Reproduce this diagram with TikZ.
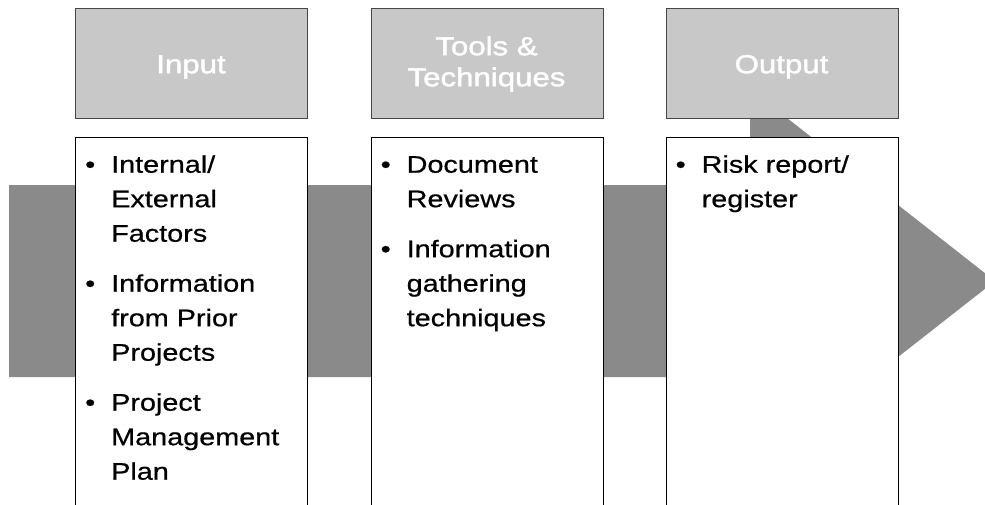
\documentclass[tikz,border=0pt]{standalone}
\usepackage{fontspec}
\setmainfont{Liberation Sans}
\newfontfamily\stretchf[FakeStretch=1.2,FakeBold=0.6]{Liberation Sans}
\newfontfamily\headf[FakeStretch=1.2,FakeBold=1.6]{Liberation Sans}
\definecolor{arrowgray}{RGB}{138,138,138}
\definecolor{headgray}{RGB}{200,200,200}
\definecolor{edgegray}{RGB}{70,70,70}
\newcommand\bitem[1]{\hangindent=26pt\hangafter=1\noindent\makebox[26pt][l]{\rule{0pt}{20pt}•}#1\par}
\newcommand\nl{\hfil\break}
\newcommand\itemgap{\vskip15.5pt}
\tikzset{
  cbox/.style={draw=black, line width=1.3pt, fill=white, rectangle, inner sep=0pt,
    minimum width=232pt, minimum height=390pt, anchor=north west},
  hbox/.style={draw=edgegray, line width=1.4pt, fill=headgray, rectangle, inner sep=0pt,
    minimum width=232pt, minimum height=110pt, anchor=north west},
  htext/.style={text=white, inner sep=0pt, anchor=north, align=center,
    font=\headf\fontsize{26}{31}\selectfont},
  ctext/.style={text=black, inner sep=0pt, anchor=north west, text width=215pt, align=left,
    font=\stretchf\fontsize{24}{34.5}\selectfont}
}
\begin{document}
\begin{tikzpicture}[x=1pt,y=-1pt]
\useasboundingbox (0,0) rectangle (985,504);
\clip (0,0) rectangle (985,504);
% big process arrow
\fill[arrowgray] (9,185) -- (750,185) -- (750,89) -- (995,281) -- (750,473) -- (750,377) -- (9,377) -- cycle;
% content boxes
\node[cbox] (c1) at (75,137) {};
\node[cbox] (c2) at (370.5,137) {};
\node[cbox] (c3) at (665.5,137) {};
% header boxes
\node[hbox] (h1) at (75,8) {};
\node[hbox] (h2) at (370.5,8) {};
\node[hbox] (h3) at (665.5,8) {};
% header texts
\node[htext] (t1) at (191,51) {\rule{0pt}{22pt}Input};
\node[htext] (t2) at (486.5,33) {\rule{0pt}{22pt}Tools \&\\Techniques};
\node[htext] (t3) at (781.5,51) {\rule{0pt}{22pt}Output};
% content texts
\node[ctext] (b1) at (85,152.5) {%
  \bitem{Internal/\nl External\nl Factors}\itemgap
  \bitem{Information\nl from Prior\nl Projects}\itemgap
  \bitem{Project\nl Management\nl Plan}};
\node[ctext] (b2) at (380.5,152.5) {%
  \bitem{Document\nl Reviews}\itemgap
  \bitem{Information\nl gathering\nl techniques}};
\node[ctext] (b3) at (675.5,152.5) {%
  \bitem{Risk report/\nl register}};
\end{tikzpicture}
\end{document}
